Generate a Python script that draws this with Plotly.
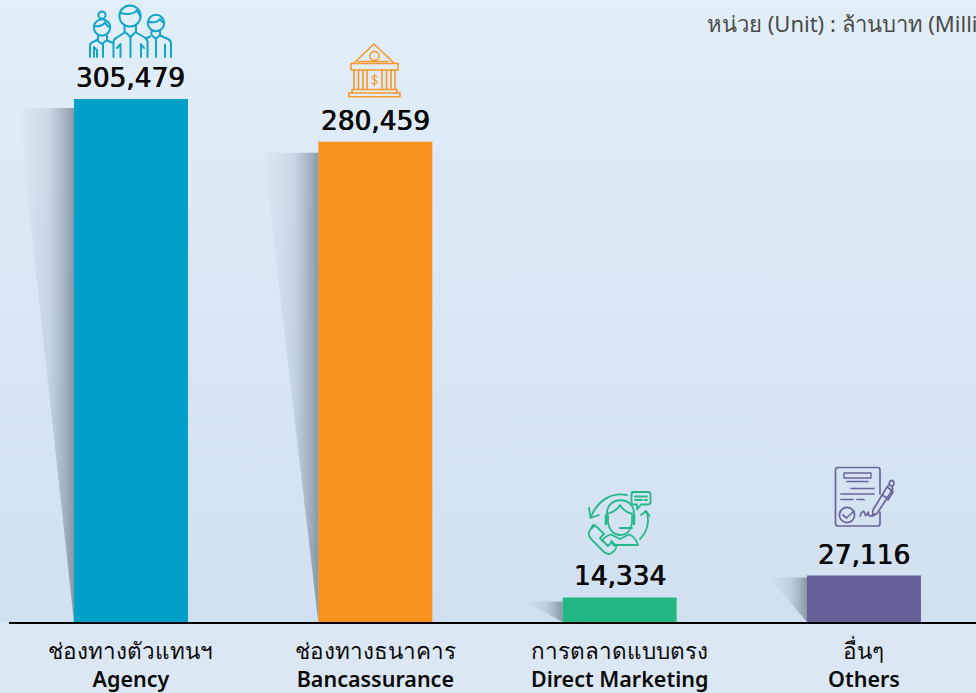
import base64
import plotly.graph_objects as go

cats_th = ["ช่องทางตัวแทนฯ", "ช่องทางธนาคาร", "การตลาดแบบตรง", "อื่นๆ"]
cats_en = ["Agency", "Bancassurance", "Direct Marketing", "Others"]
values = [305479, 280459, 14334, 27116]
labels = ["305,479", "280,459", "14,334", "27,116"]
colors = ["#00a0c8", "#f8911e", "#22b884", "#666098"]
unit_text = "หน่วย (Unit) : ล้านบาท (Million Baht)"

# shadow styling (not data): pixels below the bar top, reach to the left in pixels
shadow_drop_px = [9, 11, 4, 2]
shadow_reach_px = [56, 55, 38, 38]

W, H = 976, 693
ML, MB = 9, 71
PH = H - MB
PW = W - ML
YMAX = 363300
BAR = 0.4666
XMIN = -0.4993
XMAX = 3.4585
UX = (XMAX - XMIN) / PW
UY = YMAX / PH


def svg_uri(svg):
    return "data:image/svg+xml;base64," + base64.b64encode(svg.encode()).decode()


def icon(inner, color, x0, y0, w, h, sw=1.7):
    svg = (f'<svg xmlns="http://www.w3.org/2000/svg" width="{w * 4}" height="{h * 4}" viewBox="{x0} {y0} {w} {h}">'
           f'<g fill="none" stroke="{color}" stroke-width="{sw}" stroke-linecap="round" stroke-linejoin="round">{inner}</g></svg>')
    return dict(source=svg_uri(svg), xref="paper", yref="paper", x=(x0 - ML) / PW, y=(PH - y0) / PH,
                sizex=w / PW, sizey=h / PH, xanchor="left", yanchor="top", sizing="stretch", layer="above")


people = '''
<circle cx="102" cy="15" r="3.6"/><circle cx="102" cy="27.5" r="8.2"/>
<path d="M94.5 26 C99 27 104 25 105 22 C106 25 108 26.5 110 27"/>
<path d="M98 36 V41 L102 44 L107 40 V36"/>
<path d="M90 57 V45.5 Q90 43 93 42 L98 39.5"/><path d="M94 57 V47 Q95.5 49 97 50 V57"/>
<path d="M103 44 V57"/><path d="M107 40.5 L113 43"/>
<circle cx="130" cy="16" r="10.6"/>
<path d="M120.5 13 C127 14.5 134 14 137 10 C138 13 139.5 15 140.5 16"/>
<path d="M124.5 26 V31.5 L130.5 37 L136 31.5 V26"/>
<path d="M113.5 57 V42 Q113.5 39 117 37.5 L124.5 32.5"/><path d="M136 32.5 L144 37 Q147.5 39 147.5 42 V57"/>
<path d="M130.5 37 V57"/><path d="M120.5 57 V44 L117 48"/><path d="M141 57 V44 L144 48"/>
<circle cx="156" cy="23" r="8.2"/>
<path d="M148 21.5 C152 23 158 22.5 160 19 C161 21 163 22.5 164 23"/>
<path d="M151.5 31 V35 L156 39 L160 35 V31"/>
<path d="M160 35.5 L168 39 Q171 40.5 171 43 V57"/><path d="M156 39 V57"/><path d="M165 57 V44.5"/><path d="M150 36.5 L147 38"/>
'''

bank = '''
<path d="M354 63 L374 44 L394 63"/><circle cx="374.5" cy="56" r="4.6"/>
<path d="M358 61.5 H388"/>
<rect x="351" y="63.5" width="47" height="6.5"/>
<path d="M354 70 V89 M358.5 70 V89 M363 70 V89 M367 70 V89 M382 70 V89 M386.5 70 V89 M391 70 V89 M395 70 V89"/>
<path d="M352 89.5 H397 V93 M352 89.5 V93"/>
<rect x="349" y="93" width="51" height="3.8"/>
<path d="M377 77 Q374.5 75 372.5 76.5 Q371 78.5 374.5 79.8 Q378 81 376.5 83.5 Q374 85 371.8 83 M374.5 74 V86" stroke-width="1.1"/>
'''

phone = '''
<path d="M627 495 C611 492 597 501 591 517"/><path d="M589 508 L590.5 518 L599 515"/>
<path d="M640 539 C648 531 650 520 646 511"/><path d="M641 515 L646 511 L649.5 516"/>
<path d="M632 492 H648 Q650.5 492 650.5 494.5 V502 Q650.5 504.5 648 504.5 H641 L637 509.5 V504.5 H634 Q631.5 504.5 631.5 502 V494.5 Q631.5 492 634 492 Z"/>
<path d="M635 496.5 H647 M635 500 H642 M644.5 500 H647" stroke-width="2"/>
<path d="M607 519 V513 C607 496 634 496 634 513 V519"/>
<path d="M607 514 C614 512 618 509 620 505 C623 510 628 513 633 514"/>
<path d="M608 516 V522 C609 531 615 535 620 535 C626 535 631 531 632 522 V516"/>
<path d="M606 515.5 V524 M634 515.5 V524" stroke-width="2.6"/>
<path d="M632 528 H620"/>
<path d="M602 541 Q605 536 611 534.5 L620 539 L629 534.5 Q635 536 638 545 H613"/>
<path d="M593 525 L597 527 L604 534 L600 538 L608 546 L612 542 L616 546 Q617 548 614 551 L611 553.5 Q608 555 604 552 L591 539 Q587 534 590 530 Z"/>
<path d="M595 525 L591 529 M611 541 L616 546"/>
'''

document = '''
<path d="M880 494 V470 Q880 467.5 877.5 467.5 H838 Q835.5 467.5 835.5 470 V523.5 Q835.5 526 838 526 H877.5 Q880 526 880 523.5 V512"/>
<path d="M844 473 H871 V478 H844 Z" stroke-width="1.4"/>
<path d="M847 481.5 H868 M851 488.5 H874 M841 494 H874 M841 499.5 H853 M857 499.5 H864"/>
<circle cx="847" cy="515" r="7.6"/><path d="M843 515 L846.5 518 L854 511"/>
<path d="M860 516 Q863 508 865 514 Q866 518 868 512 Q869 517 871 516 L875 514"/>
<path d="M873 510 L887 487 Q889 484 891.5 486 Q893.5 488 892 490.5 L877 513.5 L872.5 516 Z"/>
<path d="M887 487 L892 490.5 M889 484 Q890 480 892.5 480.5 Q895 482 893 486 M882 495 L887 498 M890.5 490 L893 492 L888 500"/>
'''

bg = (f'<svg xmlns="http://www.w3.org/2000/svg" width="{W}" height="{H}"><defs><linearGradient id="g" x1="0" y1="0" x2="0" y2="1">'
      f'<stop offset="0" stop-color="#e3f0f9"/><stop offset="1" stop-color="#d1e0f0"/></linearGradient></defs>'
      f'<rect width="{W}" height="{H}" fill="url(#g)"/></svg>')

fig = go.Figure()

for i, v in enumerate(values):
    left = i - BAR / 2
    reach = shadow_reach_px[i] * UX
    top = v - shadow_drop_px[i] * UY
    fig.add_trace(go.Scatter(
        x=[left, left - reach, left], y=[0, top, top],
        mode="lines", line=dict(width=0), fill="toself",
        fillgradient=dict(type="horizontal", colorscale=[
            [0, "rgba(150,165,180,0)"], [0.55, "rgba(150,165,180,0.28)"], [1, "rgba(120,135,150,0.82)"]]),
        hoverinfo="skip", showlegend=False))

fig.add_trace(go.Bar(x=list(range(4)), y=values, width=BAR, marker=dict(color=colors, line=dict(width=0)),
                     showlegend=False, hoverinfo="skip"))

annotations = [dict(text=unit_text, xref="paper", yref="paper", x=(705 - ML) / PW, y=(PH - 23) / PH, xanchor="left",
                    yanchor="middle", showarrow=False, align="left",
                    font=dict(family="Noto Sans", size=22, color="#4a4a4a", weight=400))]
for i, (v, t) in enumerate(zip(values, labels)):
    annotations.append(dict(text=t, x=i, y=v, xref="x", yref="y", yanchor="bottom", yshift=4, showarrow=False,
                            font=dict(family="DejaVu Sans", size=26.4, color="#0a0a0a",
                                      shadow="0.35px 0 0 #0a0a0a, -0.35px 0 0 #0a0a0a")))

fig.update_layout(
    width=W, height=H, margin=dict(l=ML, r=0, t=0, b=MB),
    paper_bgcolor="#dbe8f4", plot_bgcolor="rgba(0,0,0,0)", showlegend=False,
    xaxis=dict(range=[XMIN, XMAX], tickmode="array", tickvals=list(range(4)),
               ticktext=[f'<span style="font-size:22.5px;font-weight:500">{a}</span><br>{b}' for a, b in zip(cats_th, cats_en)],
               tickfont=dict(family="Noto Sans, DejaVu Sans", size=21.5, color="#0a0a0a", weight=600),
               ticklabelstandoff=9,
               showgrid=False, zeroline=False, showline=True, linecolor="#000000", linewidth=2, ticks=""),
    yaxis=dict(range=[0, YMAX], visible=False),
    images=[dict(source=svg_uri(bg), xref="paper", yref="paper", x=-ML / PW, y=H / PH, sizex=W / PW, sizey=H / PH,
                 xanchor="left", yanchor="top", sizing="stretch", layer="below"),
            icon(people, "#12a4c9", 86, 2, 88, 58, 2.0),
            icon(bank, "#f8962a", 346, 41, 57, 59, 1.6),
            icon(phone, "#25b98a", 585, 488, 69, 69, 1.8),
            icon(document, "#6a649c", 832, 464, 65, 65, 1.7)],
    annotations=annotations,
)
fig.write_html("out.html", config={"displayModeBar": False},
               post_script="document.body.style.margin='0';document.body.style.overflow='hidden';")
